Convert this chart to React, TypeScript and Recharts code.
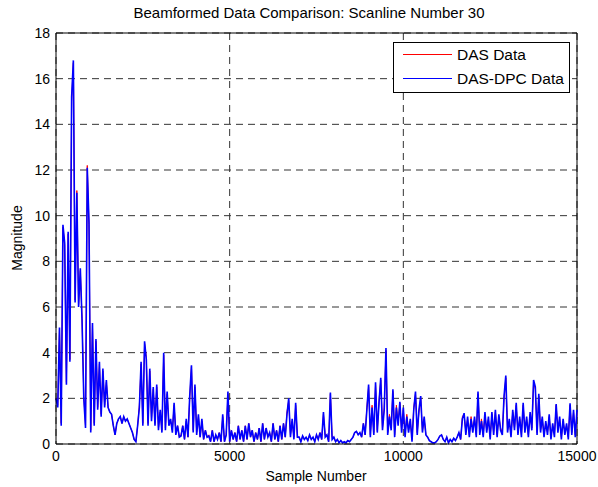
import { LineChart, Line, XAxis, YAxis, CartesianGrid, ReferenceLine } from "recharts";

// samples are spaced every 50 along the scanline (0..15000)
const sampleStep = 50;

// DAS-DPC magnitude, one row per 500 samples
const dpcValues = [
  2.0, 1.6, 5.1, 0.8, 9.6, 8.8, 2.6, 9.3, 3.6, 15.2,
  16.8, 6.2, 11.0, 6.0, 7.7, 5.4, 2.0, 0.7, 12.1, 9.7,
  0.5, 5.3, 0.8, 4.6, 1.5, 3.6, 1.2, 3.3, 1.6, 2.8,
  1.6, 1.4, 1.3, 0.8, 0.4, 0.9, 1.1, 1.2, 0.9, 1.2,
  1.0, 1.1, 0.9, 0.7, 0.5, 0.2, 0.1, 0.8, 1.6, 3.6,
  0.8, 4.5, 3.7, 0.8, 3.3, 1.0, 2.5, 0.8, 2.6, 0.6,
  1.5, 0.5, 4.0, 0.6, 2.3, 0.8, 1.1, 0.5, 1.8, 0.4,
  0.8, 0.3, 0.35, 0.8, 0.2, 1.1, 0.3, 2.1, 3.45, 0.5,
  2.6, 0.4, 1.3, 0.3, 1.1, 0.2, 0.6, 0.3, 0.35, 0.1,
  0.6, 0.1, 0.4, 0.2, 0.5, 0.1, 1.3, 0.1, 0.4, 2.3,
  0.1, 0.6, 0.2, 0.5, 0.1, 0.8, 0.2, 0.6, 0.1, 0.8,
  0.2, 0.9, 0.3, 0.6, 0.1, 0.5, 0.2, 0.7, 0.1, 0.9,
  0.2, 0.7, 0.3, 0.5, 0.1, 0.9, 0.2, 0.6, 0.1, 0.8,
  0.2, 0.9, 0.3, 1.3, 2.0, 0.3, 1.1, 0.2, 1.8, 0.3,
  0.3, 0.1, 0.35, 0.2, 0.3, 0.15, 0.4, 0.2, 0.3, 0.1,
  0.4, 0.2, 0.5, 0.2, 1.4, 0.3, 0.4, 0.1, 2.25, 0.2,
  0.3, 0.1, 0.2, 0.05, 0.15, 0.05, 0.1, 0.05, 0.15, 0.1,
  0.2, 0.3, 0.5, 0.55, 0.4, 0.5, 0.3, 0.9, 0.4, 1.5,
  2.6, 0.3, 1.6, 0.4, 2.7, 0.5, 1.8, 2.9, 0.6, 1.5,
  4.2, 0.4, 1.2, 0.6, 2.4, 0.3, 1.6, 0.8, 1.85, 0.5,
  1.6, 0.3, 1.2, 0.5, 1.1, 0.1, 1.5, 2.3, 0.4, 1.5,
  2.1, 0.5, 1.2, 0.4, 0.3, 0.15, 0.1, 0.05, 0.05, 0.1,
  0.2, 0.35, 0.4, 0.2, 0.1, 0.3, 0.05, 0.2, 0.1, 0.25,
  0.15, 0.3, 0.5, 0.2, 1.1, 1.35, 0.4, 1.2, 0.3, 1.1,
  0.5, 1.2, 0.3, 2.3, 0.4, 1.0, 0.3, 1.4, 0.5, 1.2,
  0.2, 1.4, 0.4, 1.5, 0.3, 1.3, 0.6, 0.4, 2.1, 3.0,
  0.5, 1.1, 0.3, 1.5, 0.6, 1.8, 0.4, 1.2, 0.3, 1.8,
  0.5, 1.2, 0.3, 1.4, 0.6, 2.8, 2.5, 0.4, 2.2, 0.5,
  1.2, 0.3, 1.0, 0.4, 1.3, 0.2, 0.9, 0.3, 1.75, 0.5,
  1.2, 0.2, 1.1, 0.4, 0.9, 0.2, 1.78, 0.4, 1.5, 0.3,
  1.5,
];

// DAS magnitude: almost the same trace, only a few peaks differ
const dasValues = [
  2.0, 1.7, 5.0, 0.9, 9.5, 8.7, 2.7, 9.2, 3.7, 15.0,
  16.7, 6.3, 11.1, 6.1, 7.6, 5.5, 2.1, 0.8, 12.2, 9.6,
  0.6, 5.2, 0.9, 4.5, 1.6, 3.5, 1.3, 3.2, 1.7, 2.7,
  1.6, 1.4, 1.3, 0.8, 0.4, 0.9, 1.1, 1.2, 0.9, 1.2,
  1.0, 1.1, 0.9, 0.7, 0.5, 0.2, 0.1, 0.8, 1.7, 3.5,
  0.9, 4.4, 3.8, 0.9, 3.2, 1.1, 2.4, 0.9, 2.5, 0.7,
  1.4, 0.6, 3.9, 0.7, 2.2, 0.9, 1.0, 0.6, 1.7, 0.5,
  0.8, 0.3, 0.4, 0.8, 0.2, 1.0, 0.3, 2.0, 3.4, 0.6,
  2.5, 0.5, 1.2, 0.3, 1.0, 0.2, 0.6, 0.3, 0.4, 0.1,
  0.6, 0.1, 0.4, 0.2, 0.5, 0.1, 1.2, 0.1, 0.4, 2.2,
  0.1, 0.6, 0.2, 0.5, 0.1, 0.8, 0.2, 0.6, 0.1, 0.8,
  0.2, 0.9, 0.3, 0.6, 0.1, 0.5, 0.2, 0.7, 0.1, 0.9,
  0.2, 0.7, 0.3, 0.5, 0.1, 0.9, 0.2, 0.6, 0.1, 0.8,
  0.2, 0.9, 0.3, 1.4, 1.9, 0.4, 1.0, 0.3, 1.7, 0.3,
  0.3, 0.1, 0.35, 0.2, 0.3, 0.15, 0.4, 0.2, 0.3, 0.1,
  0.4, 0.2, 0.5, 0.2, 1.3, 0.4, 0.4, 0.1, 2.2, 0.3,
  0.3, 0.1, 0.2, 0.05, 0.15, 0.05, 0.1, 0.05, 0.15, 0.1,
  0.2, 0.3, 0.5, 0.55, 0.4, 0.5, 0.3, 0.9, 0.4, 1.6,
  2.5, 0.4, 1.7, 0.5, 2.6, 0.6, 1.9, 2.8, 0.7, 1.6,
  4.1, 0.5, 1.3, 0.7, 2.3, 0.4, 1.7, 0.9, 1.8, 0.6,
  1.5, 0.4, 1.3, 0.6, 1.0, 0.2, 1.6, 2.2, 0.5, 1.4,
  2.0, 0.6, 1.1, 0.4, 0.3, 0.15, 0.1, 0.05, 0.05, 0.1,
  0.2, 0.35, 0.4, 0.2, 0.1, 0.3, 0.05, 0.2, 0.1, 0.25,
  0.15, 0.3, 0.5, 0.2, 1.2, 1.3, 0.5, 1.1, 0.4, 1.2,
  0.6, 1.1, 0.4, 2.2, 0.5, 1.1, 0.4, 1.3, 0.6, 1.1,
  0.3, 1.3, 0.5, 1.4, 0.4, 1.2, 0.7, 0.5, 2.0, 2.9,
  0.6, 1.0, 0.4, 1.4, 0.7, 1.7, 0.5, 1.1, 0.4, 1.7,
  0.6, 1.1, 0.4, 1.3, 0.7, 2.7, 2.4, 0.5, 2.1, 0.6,
  1.1, 0.4, 0.9, 0.5, 1.2, 0.3, 0.8, 0.4, 1.7, 0.6,
  1.1, 0.3, 1.0, 0.5, 0.8, 0.3, 1.7, 0.5, 1.4, 0.4,
  1.4,
];

const xTicks = [0, 5000, 10000, 15000];
const yTicks = [0, 2, 4, 6, 8, 10, 12, 14, 16, 18];

const series = [
  { key: "das", name: "DAS Data", color: "#ff0000", width: 1 },
  { key: "dpc", name: "DAS-DPC Data", color: "#0000ff", width: 1.6 },
];

const FONT = "'Liberation Sans', Arial, sans-serif";

const data = dpcValues.map((v, i) => ({
  sample: i * sampleStep,
  das: dasValues[i],
  dpc: v,
}));

export default function App() {
  return (
    <div style={{ position: "absolute", left: 0, top: 0, width: 598, height: 487, background: "#fff", fontFamily: FONT }}>
      <div style={{ position: "absolute", left: 109, width: 400, top: 4, textAlign: "center", fontSize: 15, lineHeight: "18px", color: "#000" }}>
        Beamformed Data Comparison: Scanline Number 30
      </div>
      <LineChart width={598} height={487} data={data} margin={{ top: 33, right: 21, bottom: 0, left: 0 }}>
        <CartesianGrid stroke="#333" strokeDasharray="7 5" horizontal vertical />
        <XAxis
          type="number"
          dataKey="sample"
          domain={[0, 15000]}
          ticks={xTicks}
          height={43}
          tickLine={false}
          tickSize={0}
          tickMargin={7}
          axisLine={{ stroke: "#000" }}
          tick={{ fill: "#000", fontSize: 14, fontFamily: FONT }}
        />
        <YAxis
          type="number"
          domain={[0, 18]}
          ticks={yTicks}
          width={56}
          tickLine={false}
          tickSize={0}
          tickMargin={6}
          axisLine={{ stroke: "#000" }}
          tick={{ fill: "#000", fontSize: 14, fontFamily: FONT }}
        />
        <ReferenceLine y={18} stroke="#000" />
        <ReferenceLine x={15000} stroke="#000" />
        {series.map((s) => (
          <Line
            key={s.key}
            type="linear"
            dataKey={s.key}
            name={s.name}
            stroke={s.color}
            strokeWidth={s.width}
            dot={false}
            activeDot={false}
            isAnimationActive={false}
          />
        ))}
      </LineChart>
      <div style={{ position: "absolute", left: 316 - 100, width: 200, top: 467, textAlign: "center", fontSize: 14, lineHeight: "18px" }}>
        Sample Number
      </div>
      <div
        style={{
          position: "absolute",
          left: 17 - 50,
          top: 238 - 9,
          width: 100,
          textAlign: "center",
          fontSize: 14,
          lineHeight: "18px",
          transform: "rotate(-90deg)",
        }}
      >
        Magnitude
      </div>
      <div
        style={{
          position: "absolute",
          left: 393,
          top: 42,
          width: 177,
          height: 51,
          border: "1px solid #000",
          background: "#fff",
          boxSizing: "border-box",
          fontSize: 15.5,
        }}
      >
        {series.map((s, i) => (
          <div key={s.key}>
            <div style={{ position: "absolute", left: 9, top: 11 + i * 24, width: 49, height: 1, backgroundColor: s.color }} />
            <span style={{ position: "absolute", left: 63, top: 2 + i * 24, lineHeight: "20px", whiteSpace: "nowrap" }}>{s.name}</span>
          </div>
        ))}
      </div>
    </div>
  );
}
